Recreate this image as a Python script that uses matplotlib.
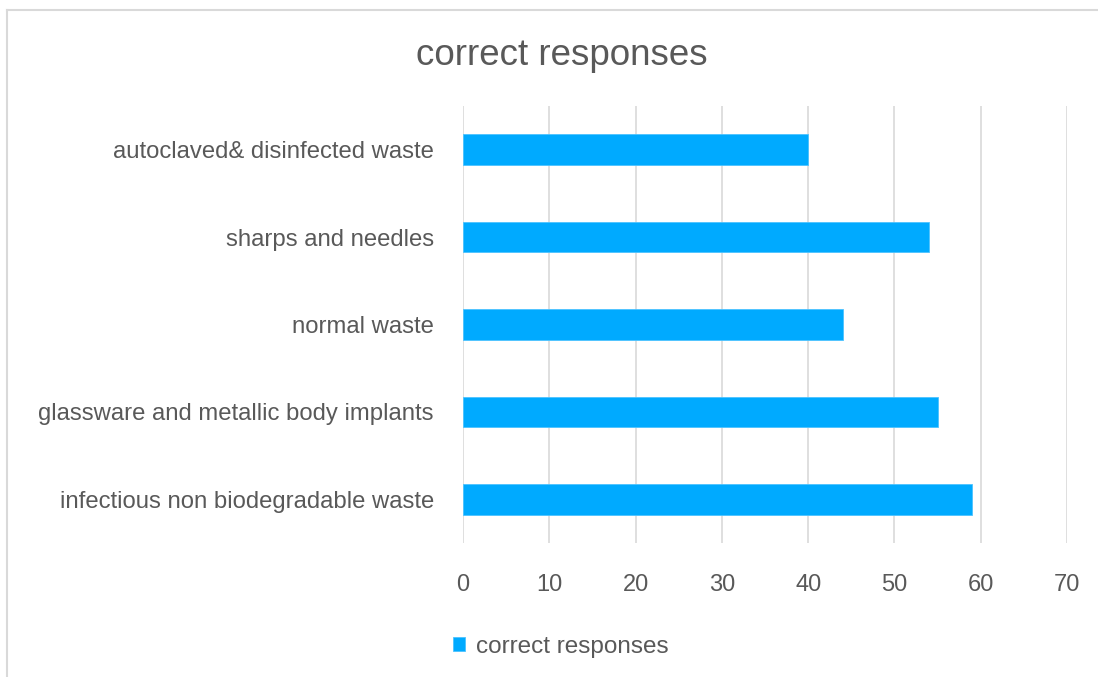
import matplotlib
matplotlib.use("Agg")
import matplotlib.pyplot as plt
from matplotlib.lines import Line2D

categories = [
    "infectious non biodegradable waste",
    "glassware and metallic body implants",
    "normal waste",
    "sharps and needles",
    "autoclaved& disinfected waste",
]
correct = [59, 55, 44, 54, 40]
xticks = [0, 10, 20, 30, 40, 50, 60, 70]

text_col = "#595959"
grid_col = "#d9d9d9"
bar_col = "#00aaff"

plt.rcParams['font.family'] = ['Liberation Sans', 'DejaVu Sans']

W, H = 1098, 677
fig = plt.figure(figsize=(W / 100, H / 100), dpi=100)
ax = fig.add_axes([463 / W, 1 - 543 / H, (1067 - 463) / W, (543 - 106) / H])

y = list(range(len(categories)))
ax.barh(y, correct, height=0.35, color=bar_col, edgecolor="#4cc3ff",
        linewidth=0.6, label="correct responses", zorder=3)

ax.set_xlim(0, 70)
ax.set_ylim(-0.5, len(categories) - 0.5)
ax.set_xticks(xticks)
ax.set_xticklabels([str(t) for t in xticks],
                   family=['Liberation Sans Narrow', 'Liberation Sans'])
ax.set_yticks(y)
ax.set_yticklabels(categories)
ax.tick_params(axis='x', length=0, pad=22, labelsize=17, labelcolor=text_col)
ax.tick_params(axis='y', length=0, pad=21, labelsize=17.2, labelcolor=text_col)
ax.grid(axis='x', color=grid_col, linewidth=1.2, zorder=0)
for s in ax.spines.values():
    s.set_visible(False)

fig.text(562 / W, 1 - 65 / H, "correct responses", ha='center', va='baseline',
         fontsize=26.5, color=text_col)

fig.legend(loc='center', bbox_to_anchor=(561 / W, 1 - 647 / H), frameon=False,
           fontsize=17.5, handlelength=0.5, handleheight=0.5, handletextpad=0.45,
           borderpad=0, labelcolor=text_col)

# outer chart frame
fig.add_artist(Line2D([7 / W, 1], [1 - 10 / H, 1 - 10 / H], color=grid_col,
                      linewidth=1.5, transform=fig.transFigure))
fig.add_artist(Line2D([7 / W, 7 / W], [0, 1 - 10 / H], color=grid_col,
                      linewidth=1.5, transform=fig.transFigure))

fig.savefig("out.png", dpi=100)
